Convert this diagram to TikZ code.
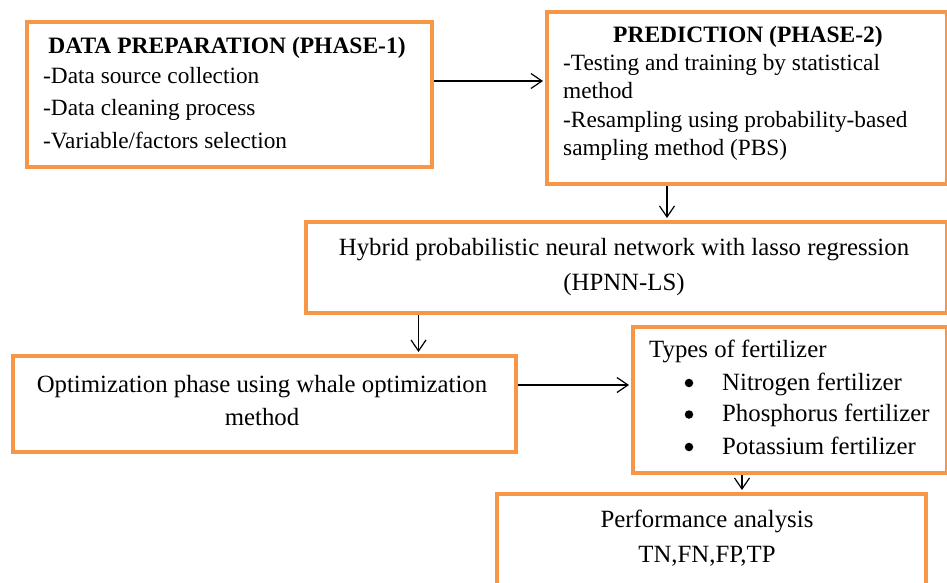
\documentclass[tikz,border=0pt]{standalone}
\usepackage{fontspec}
\setmainfont{Liberation Serif}
\usetikzlibrary{arrows.meta}
\definecolor{boxorange}{HTML}{F79646}
\begin{document}
\begin{tikzpicture}[x=1pt,y=-1pt,
  box/.style={draw=boxorange, line width=4pt, rectangle, inner sep=0pt, anchor=north west},
  txt/.style={inner sep=0pt, font=\fontsize{24.8}{28}\selectfont},
  stxt/.style={inner sep=0pt, anchor=base west, font=\fontsize{23.3}{28}\selectfont},
  lt/.style={txt, anchor=base west},
  ct/.style={txt, anchor=base},
  ttl/.style={inner sep=0pt, anchor=base, font=\fontsize{23.5}{28}\selectfont\bfseries},
  dot/.style={circle, fill=black, inner sep=0pt, minimum size=8.5pt},
  arr/.style={draw=black, line width=1.2pt, -{Straight Barb[length=11pt,width=15pt,line width=1.2pt]}, shorten >=2pt}]
\useasboundingbox (0,0) rectangle (947,582);
\clip (0,0) rectangle (947,582);
\fill[white] (0,0) rectangle (947,582);

% boxes
\node[box, minimum width=405pt, minimum height=145pt] (b1) at (25,20) {};
\node[box, minimum width=400pt, minimum height=172pt] (b2) at (545,10) {};
\node[box, minimum width=641pt, minimum height=91pt] (b3) at (304,220) {};
\node[box, minimum width=503pt, minimum height=96pt] (b4) at (11,354) {};
\node[box, minimum width=314pt, minimum height=146pt] (b5) at (631,325) {};
\node[box, minimum width=429pt, minimum height=110pt] (b6) at (495,492) {};

% box 1 text
\node[ttl] (t1) at (227,53) {DATA PREPARATION (PHASE-1)};
\node[stxt] (t1a) at (43,83) {-Data source collection};
\node[stxt] (t1b) at (43,115.5) {-Data cleaning process};
\node[stxt] (t1c) at (43,148) {-Variable/factors selection};

% box 2 text
\node[ttl] (t2) at (748,42) {PREDICTION (PHASE-2)};
\node[stxt] (t2a) at (563,70) {-Testing and training by statistical};
\node[stxt] (t2b) at (563,98) {method};
\node[stxt] (t2c) at (563,127) {-Resampling using probability-based};
\node[stxt] (t2d) at (563,155) {sampling method (PBS)};

% box 3 text
\node[ct] (t3a) at (624,255) {Hybrid probabilistic neural network with lasso regression};
\node[ct] (t3b) at (624,290) {(HPNN-LS)};

% box 4 text
\node[ct] (t4a) at (262,392) {Optimization phase using whale optimization};
\node[ct] (t4b) at (262,425) {method};

% box 5 text
\node[lt] (t5) at (649,357) {Types of fertilizer};
\node[dot] (u1) at (689,383) {};
\node[dot] (u2) at (689,414.5) {};
\node[dot] (u3) at (689,447) {};
\node[lt] (t5a) at (722,390) {Nitrogen fertilizer};
\node[lt] (t5b) at (722,421.5) {Phosphorus fertilizer};
\node[lt] (t5c) at (722,454) {Potassium fertilizer};

% box 6 text
\node[ct] (t6a) at (707,527) {Performance analysis};
\node[ct] (t6b) at (707,562) {TN,FN,FP,TP};

% connectors
\coordinate (a1) at ([yshift=13.5pt]b1.east);
\draw[arr] (a1) -- (a1 -| b2.west);
\coordinate (a2) at ([xshift=-80pt]b2.south);
\draw[arr] (a2) -- (a2 |- b3.north);
\coordinate (a3) at ([xshift=-208pt]b3.south);
\draw[arr] (a3) -- (a3 |- b4.north);
\coordinate (a4) at ([yshift=19pt]b4.east);
\draw[arr] (a4) -- (a4 -| b5.west);
\coordinate (a5) at ([xshift=-48pt]b5.south);
\draw[arr] (a5) -- (a5 |- b6.north);
\end{tikzpicture}
\end{document}
